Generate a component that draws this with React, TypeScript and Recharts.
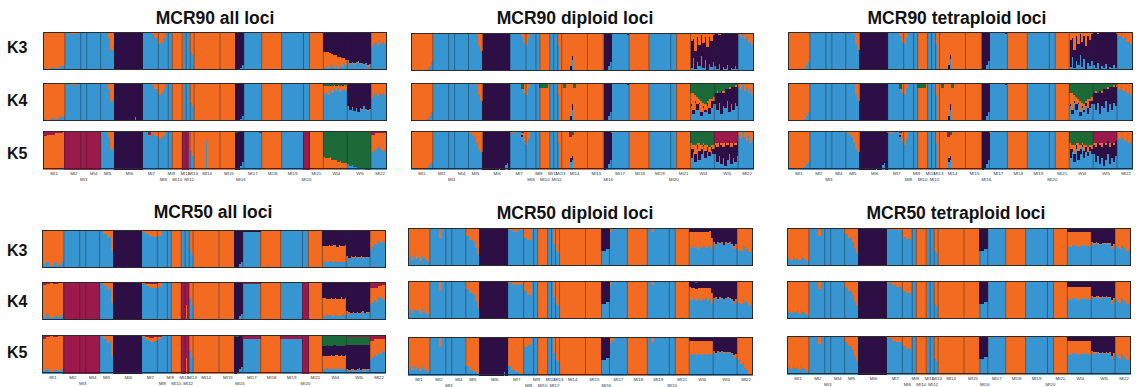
import { BarChart, Bar, XAxis, YAxis, ReferenceLine } from 'recharts';

// One run = [individuals, blue, orange, purple, green, crimson] (membership %)
type Run = number[];
type PopRuns = Run[];

const popNames = [
  'MI1', 'MI2', 'MI3', 'MI4', 'MI5', 'MI6', 'MI7', 'MI8', 'MI9', 'MI10', 'MI11', 'MI12',
  'MI13', 'MI14', 'MI15', 'MI16', 'MI17', 'MI18', 'MI19', 'MI20', 'MI21', 'WI4', 'WI5', 'MI22',
];
const lowerLabels = ['MI3', 'MI8', 'MI10', 'MI12', 'MI16', 'MI20'];
const rowLabels = ['K3', 'K4', 'K5'];

const clusterKeys = ['b', 'o', 'p', 'g', 'r'];
const clusterColors: Record<string, string> = {
  b: '#3796d2',
  o: '#f26b21',
  p: '#2d0f46',
  g: '#1b6a37',
  r: '#9b1a4b',
};

const mcr90AllK3: PopRuns[] = [
  [[2, 8, 92], [2, 4, 96], [2, 10, 90], [2, 6, 94], [2, 12, 88], [1, 15, 85]],
  [[3, 100], [3, 97, 3], [2, 100]],
  [[3, 100]],
  [[7, 100]],
  [[4, 100], [1, 85, 15], [1, 55, 45], [1, 65, 35]],
  [[14, 0, 0, 100]],
  [[5, 100], [1, 95, 5], [2, 85, 15]],
  [[1, 70, 30], [1, 75, 25], [1, 85, 15], [2, 100]],
  [[2, 100]],
  [[5, 0, 100]],
  [[2, 100]],
  [[2, 100]],
  [[1, 50, 50], [1, 40, 60]],
  [[13, 0, 100]],
  [[8, 0, 100]],
  [[2, 0, 0, 100], [1, 8, 0, 92], [1, 15, 0, 85]],
  [[9, 100]],
  [[10, 0, 100]],
  [[11, 100]],
  [[3, 100]],
  [[7, 0, 100]],
  [[1, 8, 40, 52], [1, 12, 36, 52], [1, 6, 42, 52], [1, 10, 35, 55], [1, 14, 30, 56], [1, 8, 34, 58],
    [1, 12, 28, 60], [1, 6, 30, 64], [1, 15, 20, 65], [1, 10, 22, 68], [1, 18, 14, 68], [1, 12, 16, 72]],
  [[1, 25, 3, 72], [1, 18, 2, 80], [1, 22, 0, 78], [1, 15, 4, 81], [1, 20, 2, 78], [1, 24, 0, 76],
    [1, 16, 3, 81], [1, 21, 0, 79], [1, 14, 2, 84], [1, 19, 0, 81], [1, 8, 6, 86], [1, 17, 0, 83]],
  [[1, 62, 38], [1, 70, 30], [1, 75, 25], [1, 68, 32], [1, 80, 20], [1, 72, 28], [1, 78, 22], [1, 70, 30]],
];

const mcr90AllK4: PopRuns[] = [
  [[2, 8, 92], [2, 5, 95], [2, 10, 90], [2, 6, 94], [2, 12, 88], [1, 15, 85]],
  [[3, 100], [3, 97, 3], [2, 100]],
  [[3, 100]],
  [[7, 100]],
  [[4, 100], [1, 85, 15], [1, 55, 45], [1, 65, 35]],
  [[10, 0, 0, 100], [1, 12, 0, 88], [3, 0, 0, 100]],
  [[5, 100], [1, 95, 5], [2, 85, 15]],
  [[1, 70, 30], [1, 75, 25], [1, 85, 15], [2, 100]],
  [[2, 100]],
  [[5, 0, 100]],
  [[2, 100]],
  [[2, 100]],
  [[1, 50, 50], [1, 40, 60]],
  [[13, 0, 100]],
  [[8, 0, 100]],
  [[2, 0, 0, 100], [1, 8, 0, 92], [1, 15, 0, 85]],
  [[9, 100]],
  [[10, 0, 100]],
  [[11, 100]],
  [[3, 100]],
  [[7, 0, 100]],
  [[1, 72, 22, 0, 6], [1, 78, 16, 0, 6], [1, 70, 24, 0, 6], [1, 82, 12, 2, 4], [1, 76, 18, 0, 6], [1, 85, 10, 0, 5],
    [1, 80, 14, 2, 4], [1, 88, 8, 0, 4], [1, 78, 16, 0, 6], [1, 84, 10, 2, 4], [1, 86, 10, 0, 4], [1, 80, 15, 0, 5]],
  [[1, 38, 2, 60], [1, 30, 0, 70], [1, 35, 3, 62], [1, 28, 0, 72], [1, 33, 2, 65], [1, 26, 0, 74],
    [1, 36, 0, 64], [1, 30, 3, 67], [1, 40, 0, 60], [1, 32, 0, 68], [1, 28, 2, 70], [1, 34, 0, 66]],
  [[1, 62, 38], [1, 70, 30], [1, 75, 25], [1, 68, 32], [1, 80, 20], [1, 72, 28], [1, 78, 22], [1, 70, 30]],
];

const mcr90AllK5: PopRuns[] = [
  [[2, 0, 88, 0, 0, 12], [2, 0, 92, 0, 0, 8], [2, 0, 90, 0, 0, 10], [2, 0, 95, 0, 0, 5], [2, 3, 94, 0, 0, 3], [1, 8, 92]],
  [[8, 0, 0, 0, 0, 100]],
  [[3, 0, 0, 0, 0, 100]],
  [[7, 0, 0, 0, 0, 100]],
  [[4, 100], [1, 85, 15], [1, 55, 45], [1, 65, 35]],
  [[14, 0, 0, 100]],
  [[3, 100], [1, 88, 4, 0, 0, 8], [2, 95, 5], [2, 88, 12]],
  [[1, 80, 20], [1, 85, 15], [1, 90, 10], [2, 100]],
  [[2, 100]],
  [[5, 0, 100]],
  [[2, 0, 0, 0, 0, 100]],
  [[1, 0, 0, 0, 0, 100], [1, 100]],
  [[1, 50, 50], [1, 35, 65]],
  [[6, 0, 100], [1, 75, 25], [6, 0, 100]],
  [[8, 0, 100]],
  [[1, 0, 0, 95, 5], [1, 0, 0, 100], [1, 10, 0, 90], [1, 20, 0, 80]],
  [[8, 100], [1, 95, 0, 0, 0, 5]],
  [[10, 0, 100]],
  [[11, 100]],
  [[3, 0, 0, 0, 0, 100]],
  [[7, 0, 100]],
  [[1, 0, 34, 0, 66], [1, 0, 30, 0, 70], [1, 2, 28, 0, 70], [1, 0, 32, 0, 68], [1, 0, 26, 0, 74], [1, 3, 22, 0, 75],
    [1, 0, 24, 0, 76], [1, 0, 20, 0, 80], [1, 4, 18, 0, 78], [1, 0, 16, 0, 84], [1, 0, 18, 0, 82], [1, 2, 14, 0, 84]],
  [[1, 14, 0, 0, 86], [1, 10, 0, 0, 90], [1, 12, 0, 0, 88], [1, 6, 0, 0, 94], [1, 8, 0, 0, 92], [1, 4, 0, 0, 96],
    [1, 5, 0, 0, 95], [1, 2, 0, 0, 98], [1, 3, 0, 0, 97], [1, 0, 0, 0, 100], [1, 0, 0, 0, 97, 3], [1, 0, 0, 0, 100]],
  [[1, 45, 45, 0, 0, 10], [1, 50, 40, 0, 0, 10], [1, 55, 40, 0, 0, 5], [1, 60, 35, 0, 0, 5], [1, 62, 33, 0, 0, 5],
    [1, 55, 40, 0, 0, 5], [1, 50, 45, 0, 0, 5], [1, 58, 37, 0, 0, 5]],
];

const mcr90DipK3: PopRuns[] = [
  [[2, 5, 95], [2, 2, 98], [2, 0, 100], [2, 3, 97], [1, 8, 92], [1, 15, 85], [1, 25, 75]],
  [[8, 100]],
  [[3, 100]],
  [[7, 100]],
  [[4, 100], [1, 96, 4], [1, 70, 30], [1, 55, 45]],
  [[14, 0, 0, 100]],
  [[6, 100], [1, 92, 8], [1, 75, 25]],
  [[1, 70, 30], [1, 88, 12], [3, 100]],
  [[2, 100]],
  [[5, 0, 100]],
  [[2, 100]],
  [[2, 100]],
  [[1, 70, 30], [1, 0, 100]],
  [[4, 0, 100], [1, 0, 85, 15], [1, 30, 58, 12], [7, 0, 100]],
  [[8, 0, 100]],
  [[1, 0, 0, 100], [1, 5, 0, 95], [1, 15, 0, 85], [1, 25, 0, 75]],
  [[8, 100], [1, 96, 0, 4]],
  [[10, 0, 100]],
  [[11, 100]],
  [[3, 100]],
  [[7, 0, 100]],
  [[1, 10, 20, 70], [1, 35, 15, 50], [1, 8, 45, 47], [1, 25, 10, 65], [1, 15, 30, 55], [1, 40, 5, 55],
    [1, 10, 25, 65], [1, 30, 10, 60], [1, 5, 35, 60], [1, 20, 8, 72], [1, 12, 20, 68], [1, 25, 5, 70]],
  [[1, 15, 0, 85], [1, 8, 0, 92], [1, 20, 3, 77], [1, 5, 0, 95], [1, 12, 0, 88], [1, 6, 0, 94],
    [1, 18, 0, 82], [1, 4, 0, 96], [1, 10, 2, 88], [1, 6, 0, 94], [1, 14, 0, 86], [1, 8, 0, 92]],
  [[1, 95, 5], [1, 90, 10], [1, 100], [1, 85, 15], [1, 92, 8], [1, 75, 25], [1, 80, 20], [1, 70, 30]],
];

const mcr90DipK4: PopRuns[] = [
  [[2, 5, 95], [2, 2, 98], [2, 0, 100], [2, 3, 97], [1, 8, 92], [1, 15, 85], [1, 25, 75]],
  [[8, 100]],
  [[3, 100]],
  [[7, 100]],
  [[4, 100], [1, 96, 4], [1, 70, 30], [1, 55, 45]],
  [[14, 0, 0, 100]],
  [[6, 100], [1, 85, 0, 0, 15], [1, 75, 25]],
  [[1, 70, 30], [1, 88, 12], [3, 100]],
  [[2, 100]],
  [[4, 0, 87, 0, 13], [1, 0, 100]],
  [[2, 100]],
  [[2, 100]],
  [[1, 70, 30], [1, 0, 100]],
  [[1, 0, 100], [1, 0, 88, 0, 12], [2, 0, 100], [1, 0, 85, 15], [1, 30, 55, 15], [1, 0, 88, 0, 12], [6, 0, 100]],
  [[8, 0, 100]],
  [[1, 0, 0, 100], [1, 5, 0, 95], [1, 15, 0, 85], [1, 25, 0, 75]],
  [[8, 100], [1, 96, 0, 4]],
  [[10, 0, 100]],
  [[11, 100]],
  [[3, 100]],
  [[7, 0, 100]],
  [[1, 40, 30, 5, 25], [1, 20, 45, 10, 25], [1, 50, 15, 5, 30], [1, 30, 20, 15, 35], [1, 45, 10, 5, 40], [1, 15, 30, 10, 45],
    [1, 35, 10, 5, 50], [1, 25, 15, 5, 55], [1, 40, 5, 10, 45], [1, 20, 25, 15, 40], [1, 35, 5, 20, 40], [1, 45, 10, 10, 35]],
  [[1, 45, 0, 30, 25], [1, 30, 5, 45, 20], [1, 50, 0, 25, 25], [1, 20, 0, 60, 20], [1, 40, 5, 35, 20], [1, 35, 0, 50, 15],
    [1, 55, 0, 30, 15], [1, 25, 5, 60, 10], [1, 45, 0, 45, 10], [1, 30, 0, 62, 8], [1, 50, 3, 42, 5], [1, 40, 0, 57, 3]],
  [[1, 90, 10], [1, 85, 15], [1, 100], [1, 80, 20], [1, 92, 8], [1, 75, 25], [1, 85, 15], [1, 70, 30]],
];

const mcr90DipK5: PopRuns[] = [
  [[2, 5, 95], [2, 2, 98], [2, 0, 100], [2, 3, 97], [1, 8, 92], [1, 15, 85], [1, 20, 80]],
  [[8, 100]],
  [[3, 100]],
  [[7, 100]],
  [[2, 95, 5], [1, 90, 10], [1, 85, 15], [1, 70, 30], [1, 55, 45], [1, 45, 55]],
  [[8, 0, 0, 100], [1, 5, 0, 95], [2, 0, 0, 100], [1, 12, 0, 88], [1, 18, 0, 82], [1, 0, 0, 100]],
  [[3, 97, 3], [3, 100], [1, 85, 5, 5, 0, 5], [1, 75, 25]],
  [[1, 65, 35], [1, 80, 20], [3, 100]],
  [[2, 100]],
  [[5, 0, 100]],
  [[2, 100]],
  [[2, 100]],
  [[1, 70, 30], [1, 0, 100]],
  [[4, 0, 100], [1, 20, 55, 10, 0, 15], [1, 25, 55, 10, 10], [7, 0, 100]],
  [[8, 0, 100]],
  [[1, 0, 0, 100], [1, 5, 0, 95], [1, 15, 0, 85], [1, 25, 0, 75]],
  [[1, 97, 3], [8, 100]],
  [[10, 0, 100]],
  [[11, 100]],
  [[3, 100]],
  [[7, 0, 100]],
  [[1, 30, 15, 25, 30], [1, 45, 10, 10, 35], [1, 20, 25, 20, 35], [1, 55, 5, 10, 30], [1, 25, 20, 25, 30], [1, 40, 10, 15, 35],
    [1, 60, 5, 5, 30], [1, 30, 15, 20, 35], [1, 45, 5, 15, 35], [1, 35, 15, 10, 40], [1, 50, 5, 10, 35], [1, 40, 10, 15, 35]],
  [[1, 40, 5, 25, 0, 30], [1, 20, 10, 40, 0, 30], [1, 35, 0, 35, 0, 30], [1, 15, 5, 50, 0, 30], [1, 30, 10, 30, 0, 30],
    [1, 10, 0, 60, 0, 30], [1, 25, 5, 40, 0, 30], [1, 40, 0, 35, 0, 25], [1, 15, 10, 45, 0, 30], [1, 30, 0, 40, 0, 30],
    [1, 20, 5, 45, 0, 30], [1, 35, 0, 40, 0, 25]],
  [[1, 90, 10], [1, 80, 20], [1, 100], [1, 85, 15], [1, 75, 25], [1, 90, 10], [1, 70, 30], [1, 80, 20]],
];

const mcr50AllK3: PopRuns[] = [
  [[2, 12, 88], [2, 18, 82], [2, 8, 92], [2, 15, 85], [2, 10, 90], [1, 20, 80]],
  [[8, 100]],
  [[3, 100]],
  [[7, 100]],
  [[2, 100], [2, 90, 10], [1, 80, 20], [1, 85, 15], [1, 45, 55]],
  [[14, 0, 0, 100]],
  [[2, 95, 5], [2, 92, 8], [2, 85, 15], [2, 82, 18]],
  [[2, 85, 15], [3, 100]],
  [[2, 100]],
  [[5, 0, 100]],
  [[2, 100]],
  [[2, 100]],
  [[1, 50, 50], [1, 35, 65]],
  [[13, 0, 100]],
  [[8, 0, 100]],
  [[1, 0, 0, 100], [1, 5, 0, 95], [1, 12, 0, 88], [1, 18, 0, 82]],
  [[9, 97, 0, 3]],
  [[10, 0, 100]],
  [[11, 98, 0, 2]],
  [[3, 100]],
  [[7, 0, 100]],
  [[1, 18, 42, 40], [1, 20, 40, 40], [1, 16, 44, 40], [1, 19, 42, 39], [1, 21, 39, 40], [1, 17, 44, 39],
    [1, 20, 41, 39], [1, 18, 40, 42], [1, 19, 43, 38], [1, 17, 42, 41], [1, 20, 40, 40], [1, 18, 43, 39]],
  [[1, 30, 2, 68], [1, 28, 1, 71], [1, 32, 2, 66], [1, 29, 1, 70], [1, 31, 2, 67], [1, 30, 0, 70],
    [1, 28, 2, 70], [1, 32, 1, 67], [1, 29, 2, 69], [1, 31, 0, 69], [1, 28, 3, 69], [1, 30, 1, 69]],
  [[1, 50, 50], [1, 58, 42], [1, 65, 35], [1, 62, 38], [1, 72, 28], [1, 68, 32], [1, 70, 30], [1, 66, 34]],
];

const mcr50AllK4: PopRuns[] = [
  [[2, 10, 83, 0, 0, 7], [2, 15, 82, 0, 0, 3], [2, 8, 90, 0, 0, 2], [2, 12, 85, 0, 0, 3], [2, 10, 88, 0, 0, 2], [1, 18, 80, 0, 0, 2]],
  [[8, 0, 0, 0, 0, 100]],
  [[3, 0, 0, 0, 0, 100]],
  [[7, 0, 0, 0, 0, 100]],
  [[2, 100], [2, 90, 10], [1, 80, 20], [1, 85, 15], [1, 45, 55]],
  [[14, 0, 0, 100]],
  [[2, 95, 3, 0, 0, 2], [2, 90, 5, 0, 0, 5], [2, 85, 10, 0, 0, 5], [2, 85, 12, 0, 0, 3]],
  [[2, 88, 12], [3, 100]],
  [[2, 100]],
  [[5, 0, 100]],
  [[2, 0, 0, 0, 0, 100]],
  [[1, 0, 40, 0, 0, 60], [1, 0, 0, 0, 0, 100]],
  [[1, 60, 40], [1, 40, 60]],
  [[13, 0, 100]],
  [[8, 0, 100]],
  [[1, 0, 0, 100], [1, 5, 0, 95], [1, 12, 0, 88], [1, 18, 0, 82]],
  [[9, 95, 0, 0, 0, 5]],
  [[10, 0, 100]],
  [[11, 100]],
  [[3, 0, 0, 0, 0, 100]],
  [[7, 0, 100]],
  [[1, 15, 45, 38, 0, 2], [1, 13, 46, 39, 0, 2], [1, 16, 42, 40, 0, 2], [1, 14, 44, 40, 0, 2], [1, 15, 45, 38, 0, 2],
    [1, 12, 45, 41, 0, 2], [1, 16, 43, 39, 0, 2], [1, 14, 44, 40, 0, 2], [1, 13, 44, 41, 0, 2], [1, 15, 46, 37, 0, 2],
    [1, 16, 42, 40, 0, 2], [1, 14, 45, 39, 0, 2]],
  [[1, 22, 2, 74, 0, 2], [1, 20, 2, 76, 0, 2], [1, 18, 3, 77, 0, 2], [1, 22, 1, 75, 0, 2], [1, 19, 2, 77, 0, 2],
    [1, 21, 2, 75, 0, 2], [1, 17, 3, 78, 0, 2], [1, 20, 2, 76, 0, 2], [1, 23, 1, 74, 0, 2], [1, 19, 2, 77, 0, 2],
    [1, 21, 1, 76, 0, 2], [1, 20, 2, 76, 0, 2]],
  [[1, 40, 45, 0, 0, 15], [1, 45, 40, 0, 0, 15], [1, 55, 30, 0, 0, 15], [1, 50, 35, 0, 0, 15], [1, 60, 32, 0, 0, 8],
    [1, 62, 30, 0, 0, 8], [1, 58, 35, 0, 0, 7], [1, 55, 38, 0, 0, 7]],
];

const mcr50AllK5: PopRuns[] = [
  [[2, 8, 82, 0, 0, 10], [2, 12, 85, 0, 0, 3], [2, 5, 93, 0, 0, 2], [2, 10, 87, 0, 0, 3], [2, 6, 92, 0, 0, 2], [1, 12, 86, 0, 0, 2]],
  [[8, 0, 0, 0, 0, 100]],
  [[3, 0, 0, 0, 0, 100]],
  [[7, 0, 0, 0, 0, 100]],
  [[2, 100], [2, 90, 10], [1, 80, 20], [1, 85, 15], [1, 45, 55]],
  [[14, 0, 0, 100]],
  [[2, 95, 3, 0, 0, 2], [2, 88, 7, 0, 0, 5], [2, 82, 12, 0, 0, 6], [2, 85, 10, 0, 0, 5]],
  [[2, 90, 5, 0, 0, 5], [3, 100]],
  [[2, 100]],
  [[5, 0, 100]],
  [[2, 0, 0, 0, 0, 100]],
  [[1, 0, 40, 0, 0, 60], [1, 0, 0, 0, 0, 100]],
  [[1, 60, 40], [1, 40, 60]],
  [[13, 0, 100]],
  [[8, 0, 100]],
  [[1, 0, 0, 95, 5], [1, 5, 0, 90, 5], [1, 12, 0, 88], [1, 18, 0, 82]],
  [[9, 90, 0, 0, 0, 10]],
  [[10, 0, 100]],
  [[11, 90, 0, 0, 0, 10]],
  [[3, 0, 0, 0, 0, 100]],
  [[7, 0, 100]],
  [[1, 14, 33, 25, 26, 2], [1, 12, 35, 26, 25, 2], [1, 15, 32, 27, 24, 2], [1, 13, 34, 25, 26, 2], [1, 12, 36, 25, 25, 2],
    [1, 14, 33, 27, 24, 2], [1, 13, 35, 26, 24, 2], [1, 15, 33, 25, 25, 2], [1, 12, 34, 27, 25, 2], [1, 14, 35, 24, 25, 2],
    [1, 13, 33, 26, 26, 2], [1, 15, 34, 25, 24, 2]],
  [[1, 10, 2, 62, 22, 4], [1, 8, 2, 64, 22, 4], [1, 10, 1, 63, 22, 4], [1, 9, 2, 63, 22, 4], [1, 8, 2, 64, 22, 4],
    [1, 11, 1, 62, 22, 4], [1, 12, 2, 60, 22, 4], [1, 9, 1, 64, 22, 4], [1, 10, 2, 62, 22, 4], [1, 8, 3, 63, 22, 4],
    [1, 11, 1, 62, 22, 4], [1, 9, 2, 63, 22, 4]],
  [[1, 35, 50, 0, 0, 15], [1, 40, 45, 0, 0, 15], [1, 50, 40, 0, 0, 10], [1, 45, 45, 0, 0, 10], [1, 55, 35, 0, 0, 10],
    [1, 52, 38, 0, 0, 10], [1, 60, 30, 0, 0, 10], [1, 58, 32, 0, 0, 10]],
];

const mcr50DipK3: PopRuns[] = [
  [[1, 22, 78], [1, 28, 72], [1, 18, 82], [1, 30, 70], [1, 20, 80], [1, 25, 75], [1, 15, 85], [1, 28, 72], [1, 22, 78], [1, 18, 82], [1, 12, 88]],
  [[5, 100], [1, 75, 25], [2, 100]],
  [[3, 100]],
  [[7, 100]],
  [[2, 80, 20], [2, 70, 30], [1, 65, 35], [1, 50, 50], [1, 30, 70]],
  [[12, 0, 0, 100], [1, 5, 0, 95], [1, 0, 0, 100]],
  [[3, 97, 3], [2, 92, 8], [3, 95, 5]],
  [[2, 75, 25], [2, 70, 30], [1, 100]],
  [[2, 100]],
  [[5, 0, 100]],
  [[2, 100]],
  [[1, 100], [1, 60, 40]],
  [[1, 40, 60], [1, 35, 65]],
  [[13, 0, 100]],
  [[8, 0, 100]],
  [[2, 42, 0, 58], [2, 45, 0, 55]],
  [[1, 90, 10], [8, 100]],
  [[10, 0, 100]],
  [[2, 100], [1, 92, 8], [8, 100]],
  [[3, 100]],
  [[7, 0, 100]],
  [[1, 50, 40, 10], [1, 54, 36, 10], [1, 48, 42, 10], [1, 52, 38, 10], [1, 46, 44, 10], [1, 53, 37, 10],
    [1, 50, 40, 10], [1, 55, 36, 9], [1, 49, 42, 9], [1, 52, 39, 9], [1, 55, 38, 7], [1, 45, 30, 25]],
  [[1, 62, 3, 35], [1, 58, 2, 40], [1, 65, 0, 35], [1, 60, 2, 38], [1, 63, 2, 35], [1, 58, 0, 42],
    [1, 62, 3, 35], [1, 60, 2, 38], [1, 64, 0, 36], [1, 57, 3, 40], [1, 45, 10, 45], [1, 55, 5, 40]],
  [[1, 50, 50], [1, 42, 58], [1, 40, 60], [1, 55, 45], [1, 52, 48], [1, 45, 55], [1, 38, 62], [1, 48, 52]],
];

const mcr50DipK4: PopRuns[] = [
  [[1, 20, 80], [1, 26, 74], [1, 17, 83], [1, 28, 72], [1, 22, 78], [1, 24, 76], [1, 14, 86], [1, 27, 73], [1, 20, 80], [1, 18, 82], [1, 12, 88]],
  [[5, 100], [1, 75, 25], [2, 100]],
  [[3, 100]],
  [[7, 100]],
  [[2, 80, 20], [2, 70, 30], [1, 65, 35], [1, 50, 50], [1, 30, 70]],
  [[12, 0, 0, 100], [1, 5, 0, 95], [1, 0, 0, 100]],
  [[3, 97, 3], [2, 90, 10], [3, 93, 7]],
  [[2, 75, 25], [2, 65, 35], [1, 100]],
  [[2, 100]],
  [[5, 0, 100]],
  [[2, 100]],
  [[1, 100], [1, 60, 40]],
  [[1, 40, 60], [1, 35, 65]],
  [[13, 0, 100]],
  [[8, 0, 100]],
  [[2, 42, 0, 58], [2, 45, 0, 55]],
  [[1, 90, 10], [8, 100]],
  [[10, 0, 100]],
  [[2, 100], [1, 92, 8], [8, 100]],
  [[3, 100]],
  [[7, 0, 100]],
  [[1, 55, 30, 15], [1, 52, 32, 16], [1, 56, 28, 16], [1, 50, 30, 15, 5], [1, 53, 31, 16], [1, 50, 33, 17],
    [1, 55, 29, 16], [1, 52, 32, 16], [1, 56, 28, 16], [1, 50, 33, 17], [1, 54, 30, 16], [1, 40, 30, 30]],
  [[1, 55, 3, 42], [1, 58, 2, 40], [1, 52, 3, 45], [1, 57, 2, 41], [1, 55, 3, 42], [1, 53, 0, 47],
    [1, 56, 2, 42], [1, 58, 2, 40], [1, 54, 3, 43], [1, 52, 2, 46], [1, 40, 10, 50], [1, 50, 5, 45]],
  [[1, 50, 50], [1, 44, 56], [1, 40, 60], [1, 55, 45], [1, 50, 50], [1, 45, 55], [1, 38, 62], [1, 46, 54]],
];

const mcr50DipK5: PopRuns[] = [
  [[1, 18, 82], [1, 22, 78], [1, 15, 85], [1, 25, 75], [1, 18, 82], [1, 20, 80], [1, 12, 88], [1, 22, 78], [1, 18, 82], [1, 14, 86], [1, 10, 90]],
  [[5, 100], [1, 75, 25], [2, 100]],
  [[3, 100]],
  [[7, 100]],
  [[2, 25, 75], [2, 15, 85], [2, 10, 90], [1, 5, 95]],
  [[12, 0, 0, 100], [1, 10, 0, 90], [1, 0, 0, 100]],
  [[2, 25, 75], [2, 15, 85], [2, 10, 90], [2, 5, 95]],
  [[2, 75, 25], [2, 80, 20], [1, 100]],
  [[2, 100]],
  [[5, 0, 100]],
  [[2, 100]],
  [[1, 100], [1, 60, 40]],
  [[1, 40, 60], [1, 35, 65]],
  [[13, 0, 100]],
  [[8, 0, 100]],
  [[2, 40, 0, 60], [2, 45, 0, 55]],
  [[1, 85, 15], [1, 90, 10], [7, 100]],
  [[10, 0, 100]],
  [[2, 100], [1, 85, 15], [8, 100]],
  [[3, 100]],
  [[7, 0, 100]],
  [[1, 58, 34, 8], [1, 55, 37, 8], [1, 57, 35, 8], [1, 54, 38, 8], [1, 58, 34, 8], [1, 56, 36, 8],
    [1, 53, 39, 8], [1, 57, 35, 8], [1, 55, 37, 8], [1, 58, 34, 8], [1, 56, 36, 8], [1, 54, 38, 8]],
  [[1, 62, 3, 35], [1, 58, 2, 40], [1, 62, 3, 35], [1, 60, 2, 38], [1, 64, 0, 36], [1, 58, 4, 38],
    [1, 61, 2, 37], [1, 59, 3, 38], [1, 62, 0, 38], [1, 57, 3, 40], [1, 45, 10, 45], [1, 50, 8, 42]],
  [[1, 45, 55], [1, 40, 60], [1, 30, 70], [1, 35, 65], [1, 20, 80], [1, 15, 85], [1, 5, 95], [1, 0, 100]],
];

const mcr50TetK3: PopRuns[] = [
  [[1, 22, 78], [1, 30, 70], [1, 18, 82], [1, 28, 72], [1, 20, 80], [1, 25, 75], [1, 16, 84], [1, 30, 70], [1, 22, 78], [1, 20, 80], [1, 14, 86]],
  [[5, 100], [1, 80, 20], [2, 100]],
  [[3, 100]],
  [[7, 100]],
  [[2, 85, 15], [2, 75, 25], [1, 65, 35], [1, 50, 50], [1, 35, 65]],
  [[14, 0, 0, 100]],
  [[3, 100], [2, 95, 5], [3, 97, 3]],
  [[2, 78, 22], [2, 72, 28], [1, 100]],
  [[2, 100]],
  [[5, 0, 100]],
  [[2, 100]],
  [[2, 100]],
  [[1, 40, 60], [1, 35, 65]],
  [[13, 0, 100]],
  [[8, 0, 100]],
  [[2, 40, 0, 60], [2, 45, 0, 55]],
  [[1, 95, 5], [8, 100]],
  [[10, 0, 100]],
  [[1, 95, 5], [10, 100]],
  [[3, 100]],
  [[7, 0, 100]],
  [[1, 55, 35, 10], [1, 52, 38, 10], [1, 56, 34, 10], [1, 53, 37, 10], [1, 58, 32, 10], [1, 52, 38, 10],
    [1, 55, 35, 10], [1, 54, 36, 10], [1, 57, 33, 10], [1, 53, 37, 10], [1, 55, 35, 10], [1, 52, 38, 10]],
  [[1, 62, 3, 35], [1, 58, 4, 38], [1, 62, 2, 36], [1, 60, 3, 37], [1, 56, 4, 40], [1, 63, 0, 37],
    [1, 59, 3, 38], [1, 61, 2, 37], [1, 58, 3, 39], [1, 60, 2, 38], [1, 45, 10, 45], [1, 52, 8, 40]],
  [[1, 55, 45], [1, 48, 52], [1, 45, 55], [1, 60, 40], [1, 55, 45], [1, 50, 50], [1, 42, 58], [1, 52, 48]],
];

const mcr50TetK4: PopRuns[] = [
  [[1, 20, 80], [1, 28, 72], [1, 16, 84], [1, 26, 74], [1, 20, 80], [1, 24, 76], [1, 15, 85], [1, 28, 72], [1, 20, 80], [1, 18, 82], [1, 12, 88]],
  [[5, 100], [1, 80, 20], [2, 100]],
  [[3, 100]],
  [[7, 100]],
  [[2, 85, 15], [2, 75, 25], [1, 65, 35], [1, 50, 50], [1, 35, 65]],
  [[14, 0, 0, 100]],
  [[3, 95, 5], [2, 90, 10], [3, 85, 15]],
  [[2, 75, 25], [2, 70, 30], [1, 100]],
  [[2, 100]],
  [[5, 0, 100]],
  [[2, 100]],
  [[2, 100]],
  [[1, 40, 60], [1, 35, 65]],
  [[13, 0, 100]],
  [[8, 0, 100]],
  [[2, 40, 0, 60], [2, 45, 0, 55]],
  [[1, 95, 5], [8, 100]],
  [[10, 0, 100]],
  [[1, 95, 5], [10, 100]],
  [[3, 100]],
  [[7, 0, 100]],
  [[1, 55, 30, 15], [1, 52, 33, 15], [1, 56, 29, 15], [1, 53, 32, 15], [1, 58, 27, 15], [1, 52, 33, 15],
    [1, 55, 30, 15], [1, 54, 31, 15], [1, 57, 28, 15], [1, 53, 32, 15], [1, 55, 30, 15], [1, 52, 33, 15]],
  [[1, 60, 3, 37], [1, 57, 3, 40], [1, 60, 2, 38], [1, 58, 3, 39], [1, 55, 4, 41], [1, 61, 0, 39],
    [1, 57, 3, 40], [1, 59, 2, 39], [1, 56, 3, 41], [1, 58, 2, 40], [1, 42, 10, 48], [1, 50, 8, 42]],
  [[1, 55, 45], [1, 46, 54], [1, 44, 56], [1, 60, 40], [1, 54, 46], [1, 48, 52], [1, 40, 60], [1, 50, 50]],
];

const mcr50TetK5: PopRuns[] = [
  [[1, 18, 82], [1, 26, 74], [1, 15, 85], [1, 25, 75], [1, 18, 82], [1, 22, 78], [1, 12, 88], [1, 25, 75], [1, 18, 82], [1, 15, 85], [1, 10, 90]],
  [[5, 100], [1, 80, 20], [2, 100]],
  [[3, 100]],
  [[7, 100]],
  [[2, 85, 15], [2, 75, 25], [1, 65, 35], [1, 50, 50], [1, 35, 65]],
  [[14, 0, 0, 100]],
  [[3, 95, 5], [2, 88, 12], [3, 85, 15]],
  [[2, 75, 25], [2, 68, 32], [1, 100]],
  [[2, 100]],
  [[5, 0, 100]],
  [[2, 100]],
  [[2, 100]],
  [[1, 40, 60], [1, 35, 65]],
  [[13, 0, 100]],
  [[8, 0, 100]],
  [[2, 40, 0, 60], [2, 45, 0, 55]],
  [[1, 95, 5], [8, 100]],
  [[10, 0, 100]],
  [[1, 95, 5], [10, 100]],
  [[3, 100]],
  [[7, 0, 100]],
  [[1, 55, 33, 12], [1, 52, 36, 12], [1, 56, 32, 12], [1, 53, 35, 12], [1, 58, 30, 12], [1, 52, 36, 12],
    [1, 55, 33, 12], [1, 54, 34, 12], [1, 57, 31, 12], [1, 53, 35, 12], [1, 55, 33, 12], [1, 52, 36, 12]],
  [[1, 58, 3, 39], [1, 55, 4, 41], [1, 58, 2, 40], [1, 57, 3, 40], [1, 53, 4, 43], [1, 60, 0, 40],
    [1, 55, 3, 42], [1, 58, 2, 40], [1, 54, 3, 43], [1, 57, 2, 41], [1, 40, 10, 50], [1, 48, 8, 44]],
  [[1, 55, 45], [1, 45, 55], [1, 42, 58], [1, 58, 42], [1, 52, 48], [1, 45, 55], [1, 38, 62], [1, 48, 52]],
];

// stacking order (bottom -> top) differs between the MCR90 diploid/tetraploid runs and the rest
const defaultOrder = ['b', 'o', 'p', 'g', 'r'];
const ploidyOrder = ['b', 'p', 'o', 'g', 'r'];

const panels = [
  { title: 'MCR90 all loci', left: 43, width: 344, titleX: 215, titleTop: 8, tops: [32, 83, 131], order: defaultOrder, rows: [mcr90AllK3, mcr90AllK4, mcr90AllK5] },
  { title: 'MCR90 diploid loci', left: 411, width: 343, titleX: 575, titleTop: 8, tops: [33, 83, 131], order: ploidyOrder, rows: [mcr90DipK3, mcr90DipK4, mcr90DipK5] },
  { title: 'MCR90 tetraploid loci', left: 788, width: 345, titleX: 957, titleTop: 8, tops: [32, 83, 131], order: ploidyOrder, rows: [mcr90DipK3, mcr90DipK4, mcr90DipK5] },
  { title: 'MCR50 all loci', left: 42, width: 344, titleX: 213, titleTop: 202, tops: [230, 282, 335], order: defaultOrder, rows: [mcr50AllK3, mcr50AllK4, mcr50AllK5] },
  { title: 'MCR50 diploid loci', left: 408, width: 345, titleX: 575, titleTop: 203, tops: [228, 281, 337], order: defaultOrder, rows: [mcr50DipK3, mcr50DipK4, mcr50DipK5] },
  { title: 'MCR50 tetraploid loci', left: 787, width: 344, titleX: 956, titleTop: 203, tops: [228, 281, 336], order: defaultOrder, rows: [mcr50TetK3, mcr50TetK4, mcr50TetK5] },
];

const rowLabelCenters = [48, 101, 154, 251, 302, 353];

const FONT = '"Liberation Sans", Arial, Helvetica, sans-serif';
const BOX_H = 38;

function buildRow(pops: PopRuns[]) {
  const data: Record<string, number>[] = [];
  const starts: number[] = [];
  const centers = new Map<number, string>();
  pops.forEach((runs, j) => {
    const start = data.length;
    starts.push(start);
    runs.forEach(([n, ...q]) => {
      const total = q.reduce((a, v) => a + v, 0) || 1;
      for (let k = 0; k < n; k++) {
        const d: Record<string, number> = { i: data.length };
        clusterKeys.forEach((c, ci) => {
          d[c] = (q[ci] ?? 0) / total;
        });
        data.push(d);
      }
    });
    centers.set(start + Math.floor((data.length - start) / 2), popNames[j]);
  });
  return { data, starts, centers };
}

function StructureRow({ pops, order, left, top, width, labels }: {
  pops: PopRuns[]; order: string[]; left: number; top: number; width: number; labels: boolean;
}) {
  const { data, starts, centers } = buildRow(pops);
  const axisH = labels ? 16 : 0;
  // band is ~1.99px; recharts truncates bar widths to whole pixels, so pin them to 2px
  const barPx = Math.ceil(width / data.length);
  return (
    <div style={{ position: 'absolute', left, top, width, height: BOX_H + axisH }}>
      <BarChart
        width={width}
        height={BOX_H + axisH}
        data={data}
        margin={{ top: 0, right: 0, bottom: 0, left: 0 }}
        barCategoryGap={0}
        barGap={0}
      >
        <XAxis
          dataKey="i"
          hide={!labels}
          height={axisH}
          interval={0}
          tickLine={false}
          axisLine={false}
          tickSize={0}
          tickMargin={0}
          tick={(props: any) => {
            const { x, y, payload } = props;
            const name = centers.get(payload.value);
            if (!name) return <g />;
            const low = lowerLabels.includes(name);
            return (
              <text x={x} y={y + (low ? 12 : 6)} textAnchor="middle" fontSize={4.4} fill="#333" fontFamily={FONT}>
                {name}
              </text>
            );
          }}
        />
        <YAxis hide domain={[0, 1]} />
        {order.map((k) => (
          <Bar
            key={k}
            dataKey={k}
            stackId="q"
            barSize={barPx}
            fill={clusterColors[k]}
            stroke={clusterColors[k]}
            strokeWidth={1.1}
            shapeRendering="crispEdges"
            isAnimationActive={false}
          />
        ))}
        {starts.slice(1).map((s) => (
          <ReferenceLine key={s} x={s} position="start" stroke="#1d2630" strokeOpacity={0.5} strokeWidth={0.9} />
        ))}
      </BarChart>
      <div
        style={{
          position: 'absolute', left: 0, top: 0, width, height: BOX_H,
          border: '1.5px solid #2b2b2b', boxSizing: 'border-box', pointerEvents: 'none',
        }}
      />
    </div>
  );
}

export default function App() {
  return (
    <div style={{ position: 'absolute', left: 0, top: 0, width: 1141, height: 387, background: '#fff', overflow: 'hidden', fontFamily: FONT }}>
      {panels.map((p) => (
        <div key={p.title}>
          <div
            style={{
              position: 'absolute', left: p.titleX - 160, top: p.titleTop, width: 320,
              textAlign: 'center', fontSize: 17.5, lineHeight: '20px', fontWeight: 700, color: '#111',
            }}
          >
            {p.title}
          </div>
          {p.rows.map((row, r) => (
            <StructureRow
              key={r}
              pops={row}
              order={p.order}
              left={p.left}
              top={p.tops[r]}
              width={p.width}
              labels={r === 2}
            />
          ))}
        </div>
      ))}
      {rowLabelCenters.map((c, idx) => (
        <div
          key={idx}
          style={{
            position: 'absolute', left: 7, top: c - 9, fontSize: 16, lineHeight: '18px',
            fontWeight: 700, color: '#111',
          }}
        >
          {rowLabels[idx % 3]}
        </div>
      ))}
    </div>
  );
}
